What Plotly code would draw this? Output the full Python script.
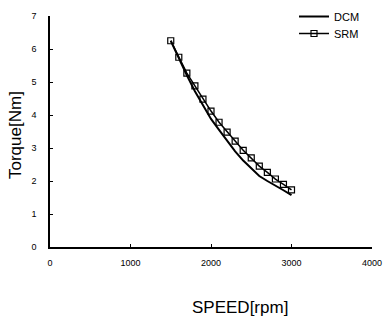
import plotly.graph_objects as go

speed = [1500, 1600, 1700, 1800, 1900, 2000, 2100, 2200, 2300, 2400, 2500, 2600, 2700, 2800, 2900, 3000]
dcm = [6.25, 5.72, 5.2, 4.72, 4.3, 3.88, 3.55, 3.22, 2.9, 2.62, 2.37, 2.15, 2.0, 1.87, 1.72, 1.57]
srm = [6.25, 5.75, 5.27, 4.88, 4.48, 4.12, 3.78, 3.48, 3.21, 2.93, 2.7, 2.45, 2.26, 2.06, 1.9, 1.73]
x_ticks = [0, 1000, 2000, 3000, 4000]
y_ticks = [0, 1, 2, 3, 4, 5, 6, 7]

L, R, T, B, W, H = 50, 11, 16, 73, 383, 320
pw, ph = W - L - R, H - T - B

fig = go.Figure()
fig.add_trace(go.Scatter(x=speed, y=dcm, mode="lines", name="DCM", legend="legend",
                         line=dict(color="black", width=2)))
fig.add_trace(go.Scatter(x=speed, y=srm, mode="lines+markers", name="SRM", legend="legend2",
                         line=dict(color="black", width=1.5),
                         marker=dict(symbol="square-open", size=6, color="black",
                                     line=dict(width=1.2))))

leg_common = dict(xanchor="left", yanchor="top", bgcolor="rgba(0,0,0,0)",
                  font=dict(size=11), itemwidth=30)

fig.update_layout(
    width=W, height=H,
    margin=dict(l=L, r=R, t=T, b=B, autoexpand=False),
    paper_bgcolor="white", plot_bgcolor="white",
    font=dict(family="Liberation Sans, Arial", color="black", size=9),
    showlegend=True,
    legend=dict(x=(294 - L) / pw, y=1 + (T - 2) / ph, **leg_common),
    legend2=dict(x=(294 - L) / pw, y=1 + (T - 19) / ph, **leg_common),
    xaxis=dict(range=[0, 4000], tickvals=x_ticks, showgrid=False, zeroline=False,
               showline=True, linecolor="black", linewidth=1.5,
               ticks="inside", ticklen=3, tickcolor="black",
               tickfont=dict(size=9), ticklabelstandoff=6),
    yaxis=dict(range=[0, 7], tickvals=y_ticks, showgrid=False, zeroline=False,
               showline=True, linecolor="black", linewidth=1.5,
               ticks="inside", ticklen=3, tickcolor="black",
               tickfont=dict(size=9), ticklabelstandoff=10),
    annotations=[
        dict(text="SPEED[rpm]", x=(240 - L) / pw, y=-(307 - (T + ph)) / ph,
             xref="paper", yref="paper", xanchor="center", yanchor="middle",
             showarrow=False, font=dict(size=17)),
        dict(text="Torque[Nm]", x=(15 - L) / pw, y=0.5 - (135 - (T + ph / 2)) / ph,
             xref="paper", yref="paper", xanchor="center", yanchor="middle",
             textangle=-90, showarrow=False, font=dict(size=17)),
    ],
)
fig.write_html("out.html", config={"displayModeBar": False},
               post_script="document.body.style.margin='0';document.body.style.overflow='hidden';")
